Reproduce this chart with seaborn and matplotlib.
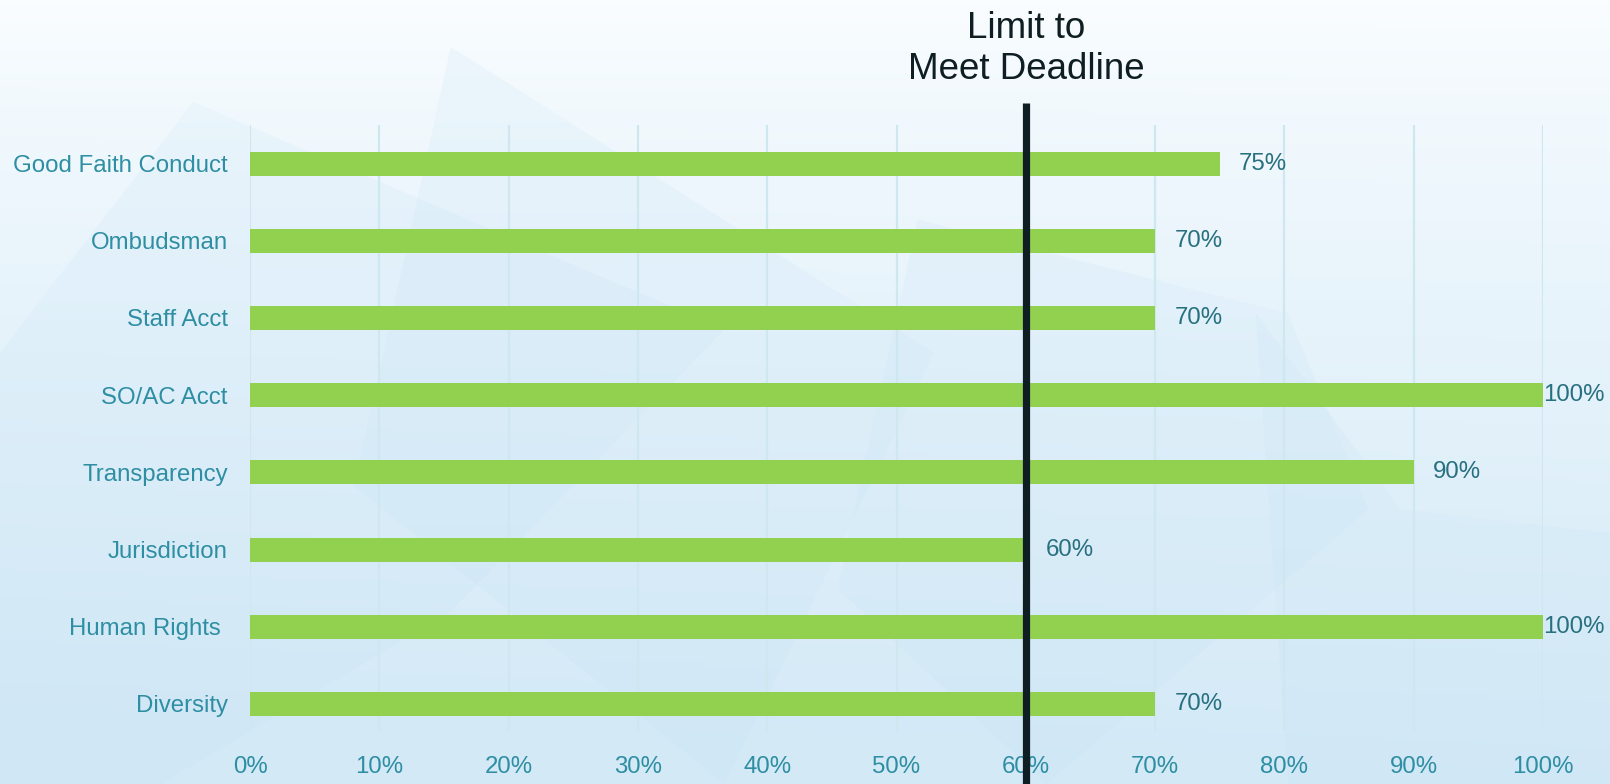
import numpy as np
import matplotlib.pyplot as plt
from matplotlib.patches import Polygon
import seaborn as sns

# data, top to bottom as in the chart
categories = ["Good Faith Conduct", "Ombudsman", "Staff Acct", "SO/AC Acct",
              "Transparency", "Jurisdiction", "Human Rights ", "Diversity"]
values = [75, 70, 70, 100, 90, 60, 100, 70]
x_ticks = [0, 10, 20, 30, 40, 50, 60, 70, 80, 90, 100]
limit_value = 60
limit_text = "Limit to\nMeet Deadline"

sns.set_style("white")
plt.rcParams['font.family'] = ['Liberation Sans', 'DejaVu Sans']

fig = plt.figure(figsize=(16.1, 7.84), dpi=100)

# background: soft blue gradient with faint polygons
bg = fig.add_axes([0, 0, 1, 1], zorder=-10)
yy = np.linspace(0, 1, 200)[:, None]
xx = np.linspace(0, 1, 300)[None, :]
top = np.array([0.98, 0.993, 1.0])
bottom = np.array([0.83, 0.915, 0.968])
t = np.clip(yy ** 0.8 + 0.08 * (1 - xx) * yy, 0, 1)
img = top[None, None, :] * (1 - t[..., None]) + bottom[None, None, :] * t[..., None]
bg.imshow(img, extent=[0, 1, 1, 0], aspect='auto')
shapes = [
    [(0.0, 0.45), (0.12, 0.13), (0.45, 0.42), (0.28, 0.78), (0.0, 0.75)],
    [(0.28, 0.06), (0.58, 0.45), (0.45, 1.0), (0.22, 0.62)],
    [(0.57, 0.28), (0.80, 0.40), (0.85, 0.65), (0.65, 1.0), (0.52, 0.75)],
    [(0.78, 0.40), (0.87, 0.65), (1.0, 0.68), (1.0, 1.0), (0.80, 1.0)],
    [(0.0, 0.75), (0.28, 0.78), (0.10, 1.0), (0.0, 1.0)],
]
for pts in shapes:
    bg.add_patch(Polygon(pts, closed=True, facecolor='#c6e3f6', alpha=0.18,
                         edgecolor='none'))
bg.set_xlim(0, 1)
bg.set_ylim(1, 0)
bg.axis('off')

ax = fig.add_axes([0.1553, 0.0676, 0.8031, 0.773])
ax.set_facecolor('none')

sns.barplot(x=values, y=categories, orient='h', color='#92d050',
            saturation=1, width=0.31, linewidth=0, ax=ax, zorder=3)

ax.set_xlim(0, 100)
ax.set_ylim(7.35, -0.5)
ax.set_xticks(x_ticks)
ax.set_xticklabels([f"{v}%" for v in x_ticks])
ax.grid(axis='x', color='#cfe7ee', linewidth=1.6, zorder=0)
ax.set_axisbelow(True)
for s in ax.spines.values():
    s.set_visible(False)
ax.tick_params(axis='both', length=0, labelsize=17.3, labelcolor='#2e8ea3')
ax.tick_params(axis='x', pad=18)
ax.tick_params(axis='y', pad=16)
ax.set_xlabel('')
ax.set_ylabel('')

# value labels
for i, v in enumerate(values):
    off = 0 if v >= 100 else 14
    ax.annotate(f"{v}%", xy=(v, i), xytext=(off, 0), textcoords='offset points',
                ha='left', va='center', fontsize=17.3, color='#27707f',
                zorder=5, annotation_clip=False)

# deadline line and its caption
ax.axvline(limit_value, ymin=-0.09, ymax=1.036, color='#0f1e22',
           linewidth=5.2, solid_capstyle='butt', clip_on=False, zorder=6)
ax.text(limit_value, 1.125, limit_text, transform=ax.get_xaxis_transform(),
        ha='center', va='center', fontsize=26.5, color='#0f1e22',
        linespacing=1.22)

fig.savefig('out.png', dpi=100)
